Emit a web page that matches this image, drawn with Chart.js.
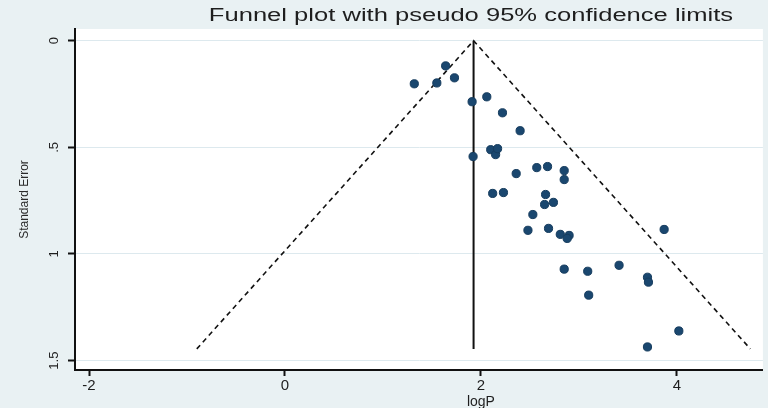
<!DOCTYPE html>
<html>
<head>
<meta charset="utf-8">
<script src="https://cdn.jsdelivr.net/npm/chart.js@4/dist/chart.umd.min.js"></script>
<style>
  html, body { margin: 0; padding: 0; background: #e9f1f3; }
  #wrap { width: 768px; height: 408px; }
</style>
</head>
<body>
<div id="wrap"><canvas id="c" width="768" height="408"></canvas></div>
<script>
// ---- data ----
const chartTitle = 'Funnel plot with pseudo 95% confidence limits';
const xAxisTitle = 'logP';
const yAxisTitle = 'Standard Error';

const logP = [1.32, 1.64, 1.55, 1.73, 1.91, 2.06, 2.22, 2.40, 1.92, 2.10, 2.15, 2.17,
              2.36, 2.57, 2.68, 2.85, 2.85, 2.12, 2.23, 2.66, 2.65, 2.74, 2.53, 2.48,
              2.69, 2.81, 2.90, 2.88, 3.87, 2.85, 3.09, 3.41, 3.70, 3.71, 3.10, 4.02, 3.70];
const standardError = [0.202, 0.118, 0.198, 0.174, 0.286, 0.263, 0.338, 0.422, 0.543, 0.511, 0.534, 0.506,
              0.623, 0.595, 0.590, 0.609, 0.651, 0.716, 0.712, 0.721, 0.768, 0.758, 0.815, 0.889,
              0.880, 0.908, 0.913, 0.927, 0.885, 1.071, 1.081, 1.053, 1.109, 1.132, 1.193, 1.361, 1.436];

const pooledEstimate = 1.925;
const funnelX = [-0.90, 1.925, 4.75];
const funnelY = [1.445, 0, 1.445];
const pooledLineY = [0, 1.445];

const xTicks = [-2, 0, 2, 4];
const xTickLabels = ['-2', '0', '2', '4'];
const yTicks = [0, 0.5, 1, 1.5];
const yTickLabels = ['0', '.5', '1', '1.5'];

// ---- chart ----
const points = logP.map((x, i) => ({ x: x, y: standardError[i] }));
const funnel = funnelX.map((x, i) => ({ x: x, y: funnelY[i] }));
const pooled = pooledLineY.map(y => ({ x: pooledEstimate, y: y }));

const bgPlugin = {
  id: 'bg',
  beforeDraw(chart) {
    const { ctx, chartArea: a } = chart;
    ctx.save();
    ctx.fillStyle = '#e9f1f3';
    ctx.fillRect(0, 0, chart.width, chart.height);
    ctx.fillStyle = '#ffffff';
    ctx.fillRect(a.left, a.top, a.right - a.left, a.bottom - a.top);
    ctx.restore();
  },
  afterDraw(chart) {
    const { ctx } = chart;
    const xs = chart.scales.x;
    ctx.save();
    ctx.fillStyle = '#1e1e1e';
    ctx.textAlign = 'center';
    ctx.textBaseline = 'middle';
    // title (reference is horizontally stretched)
    ctx.font = '18px "Liberation Sans", Arial, sans-serif';
    ctx.translate(471, 16);
    ctx.scale(1.42, 1);
    ctx.fillText(chartTitle, 0, 0);
    ctx.restore();
    ctx.save();
    ctx.fillStyle = '#1e1e1e';
    ctx.textAlign = 'center';
    ctx.textBaseline = 'middle';
    ctx.font = '14px "Liberation Sans", Arial, sans-serif';
    ctx.fillText(xAxisTitle, xs.getPixelForValue(2), 402);
    ctx.restore();
  }
};

new Chart(document.getElementById('c'), {
  type: 'scatter',
  data: {
    datasets: [
      {
        data: points,
        backgroundColor: '#1a476f',
        borderColor: '#163c5e',
        borderWidth: 1,
        pointRadius: 4.1,
        pointStyle: 'circle',
        order: 1
      },
      {
        data: funnel,
        showLine: true,
        borderColor: '#111111',
        borderWidth: 1.6,
        borderDash: [5, 4],
        pointRadius: 0,
        fill: false,
        tension: 0,
        order: 2
      },
      {
        data: pooled,
        showLine: true,
        borderColor: '#111111',
        borderWidth: 2,
        pointRadius: 0,
        fill: false,
        order: 3
      }
    ]
  },
  options: {
    responsive: false,
    animation: false,
    devicePixelRatio: 1,
    layout: { padding: { top: 29, right: 5, left: 0, bottom: 0 } },
    plugins: {
      legend: { display: false },
      tooltip: { enabled: false },
      title: { display: false }
    },
    scales: {
      x: {
        type: 'linear',
        min: -2.143,
        max: 4.878,
        afterBuildTicks(scale) { scale.ticks = xTicks.map(v => ({ value: v })); },
        afterFit(scale) { scale.height = 38; },
        ticks: {
          callback(v) { const i = xTicks.indexOf(v); return i >= 0 ? xTickLabels[i] : ''; },
          font: { size: 15, family: '"Liberation Sans", Arial, sans-serif' },
          color: '#1e1e1e',
          padding: 1,
          maxRotation: 0,
          minRotation: 0
        },
        grid: {
          drawOnChartArea: false,
          drawTicks: true,
          tickLength: 6,
          tickColor: '#111111',
          tickWidth: 2
        },
        border: { display: true, color: '#111111', width: 2 }
      },
      y: {
        type: 'linear',
        reverse: true,
        min: -0.055,
        max: 1.544,
        afterBuildTicks(scale) { scale.ticks = yTicks.map(v => ({ value: v })); },
        afterFit(scale) { scale.width = 75; },
        ticks: {
          callback(v) { const i = yTicks.indexOf(v); return i >= 0 ? yTickLabels[i] : ''; },
          font: { size: 13, family: '"Liberation Sans", Arial, sans-serif' },
          color: '#1e1e1e',
          minRotation: 90,
          maxRotation: 90,
          crossAlign: 'center',
          padding: 5
        },
        grid: {
          color: '#dde9ee',
          lineWidth: 1,
          drawOnChartArea: true,
          drawTicks: true,
          tickLength: 7,
          tickColor: '#111111',
          tickWidth: 2
        },
        border: { display: true, color: '#111111', width: 2 },
        title: {
          display: true,
          text: yAxisTitle,
          font: { size: 12, family: '"Liberation Sans", Arial, sans-serif' },
          color: '#2a2a2a',
          padding: { top: 17, bottom: 0 }
        }
      }
    }
  },
  plugins: [bgPlugin]
});
</script>
</body>
</html>
